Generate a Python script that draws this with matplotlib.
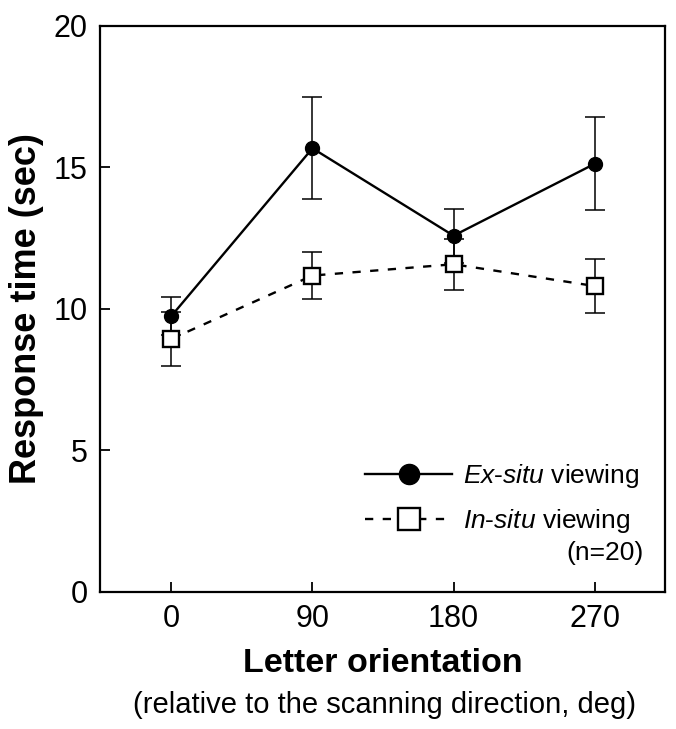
import matplotlib
matplotlib.use("Agg")
import matplotlib.pyplot as plt

plt.rcParams['font.family'] = ['Liberation Sans', 'DejaVu Sans']
plt.rcParams['mathtext.fontset'] = 'custom'
plt.rcParams['mathtext.rm'] = 'Liberation Sans'
plt.rcParams['mathtext.it'] = 'Liberation Sans:italic'

orientations = [0, 90, 180, 270]
ex_situ = [9.74, 15.67, 12.58, 15.12]
ex_situ_err = [0.68, 1.80, 0.95, 1.64]
in_situ = [8.93, 11.17, 11.57, 10.80]
in_situ_err = [0.95, 0.82, 0.90, 0.97]
yticks = [0, 5, 10, 15, 20]

fig = plt.figure(figsize=(6.76, 7.29), dpi=100)
ax = fig.add_axes([0.148, 0.1886, 0.836, 0.776])

ax.errorbar(orientations, ex_situ, yerr=ex_situ_err, fmt='none', ecolor='black',
            elinewidth=1.1, capsize=7, capthick=1.1, zorder=2)
ax.errorbar(orientations, in_situ, yerr=in_situ_err, fmt='none', ecolor='black',
            elinewidth=1.1, capsize=7, capthick=1.1, zorder=2)
ax.plot(orientations, ex_situ, color='black', lw=1.7, marker='o', ms=10,
        mfc='black', mec='black', label=r'$\mathit{Ex}$-$\mathit{situ}$ viewing', zorder=3)
ax.plot(orientations, in_situ, color='black', lw=1.7, ls=(0, (3.5, 4)), marker='s',
        ms=11, mfc='white', mec='black', mew=1.7,
        label=r'$\mathit{In}$-$\mathit{situ}$ viewing', zorder=4)

ax.set_xlim(-45.5, 315)
ax.set_ylim(0, 20)
ax.set_xticks(orientations)
ax.set_yticks(yticks)
ax.tick_params(direction='in', length=7, width=1.3, labelsize=22, pad=9)
for s in ax.spines.values():
    s.set_linewidth(1.6)

ax.set_ylabel('Response time (sec)', fontsize=26, fontweight='bold', labelpad=7)
ax.set_xlabel('Letter orientation', fontsize=24.5, fontweight='bold', labelpad=10)
fig.text(0.569, 0.033, '(relative to the scanning direction, deg)', fontsize=21,
         ha='center', va='center')

leg = ax.legend(loc='center right', bbox_to_anchor=(0.972, 0.164), frameon=False,
                fontsize=19, handlelength=3.3, handletextpad=0.4, labelspacing=0.64,
                borderaxespad=0, markerscale=1.45)
ax.text(0.962, 0.068, '(n=20)', transform=ax.transAxes, fontsize=19,
        ha='right', va='center')

fig.savefig('out.png', dpi=100)
